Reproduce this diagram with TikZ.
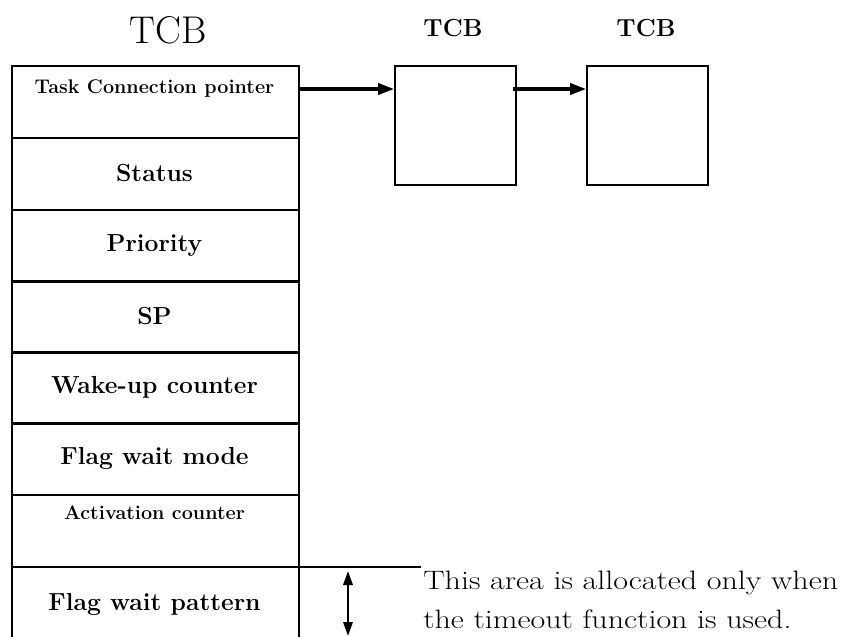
\documentclass[tikz,border=0pt]{standalone}
\usetikzlibrary{arrows.meta}
\begin{document}
\begin{tikzpicture}[x=0.75pt,y=-0.75pt,
  rowbox/.style={draw,line width=1.3pt,minimum width=215.25pt,minimum height=54pt,inner sep=0pt,anchor=north west},
  tcbbox/.style={draw,line width=1.3pt,minimum width=90.75pt,minimum height=89.25pt,inner sep=0pt,anchor=north west},
  lbl/.style={font=\bfseries\fontsize{18.5}{20}\selectfont,inner sep=0pt},
  slbl/.style={font=\bfseries\fontsize{14.8}{16}\selectfont,inner sep=0pt},
  note/.style={font=\fontsize{20}{22}\selectfont,inner sep=0pt,anchor=base west},
  ptr/.style={line width=2.3pt,-{Triangle[length=12pt,width=8.5pt]}},
  dbl/.style={line width=1.8pt,{Triangle[length=10.5pt,width=7pt]}-{Triangle[length=10.5pt,width=7pt]}}
]
\useasboundingbox (0,0) rectangle (842,636);
\begin{scope}
\clip (0,0) rectangle (842,636);
\node[rowbox] (r1) at (11,65) {};
\node[rowbox] (r2) at (11,137) {};
\node[rowbox] (r3) at (11,209) {};
\node[rowbox] (r4) at (11,280) {};
\node[rowbox] (r5) at (11,351) {};
\node[rowbox] (r6) at (11,422) {};
\node[rowbox] (r7) at (11,494) {};
\node[rowbox] (r8) at (11,566) {};
\end{scope}
\node[font=\fontsize{29}{32}\selectfont,inner sep=0pt] (tcb) at (168,30) {TCB};
\node[slbl] (t1) at (154.5,89) {Task Connection pointer};
\node[lbl] (t2) at (154.5,173) {Status};
\node[lbl] (t3) at (154.5,245) {Priority};
\node[lbl] (t4) at (154.5,316) {SP};
\node[lbl] (t5) at (154.5,387) {Wake-up counter};
\node[lbl] (t6) at (154.5,458) {Flag wait mode};
\node[slbl] (t7) at (154.5,513) {Activation counter};
\node[lbl] (t8) at (154.5,604) {Flag wait pattern};

\node[tcbbox] (b1) at (394,65) {};
\node[tcbbox] (b2) at (586,65) {};
\node[lbl] (l1) at (453,28) {TCB};
\node[lbl] (l2) at (646,28) {TCB};

\coordinate (p0) at (298,89);
\coordinate (p1) at (513,89);
\draw[ptr] (p0) -- (p0 -| b1.west);
\draw[ptr] (p1) -- (p1 -| b2.west);

\coordinate (h0) at (298,567);
\coordinate (h1) at (421,567);
\draw[line width=0.8pt] (h0) -- (h1);
\coordinate (a0) at (348,571);
\coordinate (a1) at (348,636);
\draw[dbl] (a0) -- (a1);
\node[note] (n1) at (423,589) {\scalebox{1.2}[1]{This area is allocated only when}};
\node[note] (n2) at (423,628) {\scalebox{1.2}[1]{the timeout function is used.}};
\end{tikzpicture}
\end{document}
